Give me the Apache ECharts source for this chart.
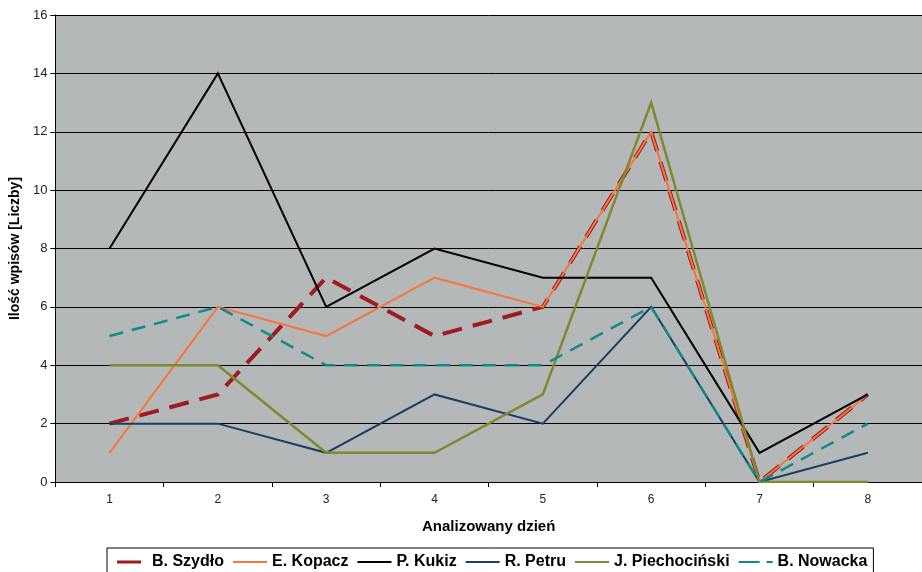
<!DOCTYPE html>
<html>
<head>
<meta charset="utf-8">
<script src="https://cdn.jsdelivr.net/npm/echarts@6/dist/echarts.min.js"></script>
<style>
html,body{margin:0;padding:0;background:#fff;}
#chart{width:922px;height:572px;}
</style>
</head>
<body>
<div id="chart"></div>
<script>
// Days on the x axis
const days = ['1', '2', '3', '4', '5', '6', '7', '8'];

// Number of posts per candidate per day
const szydlo = [2, 3, 7, 5, 6, 12, 0, 3];
const kopacz = [1, 6, 5, 7, 6, 12, 0, 3];
const kukiz = [8, 14, 6, 8, 7, 7, 1, 3];
const petru = [2, 2, 1, 3, 2, 6, 0, 1];
const piechocinski = [4, 4, 1, 1, 3, 13, 0, 0];
const nowacka = [5, 6, 4, 4, 4, 6, 0, 2];

// Legend swatches: 34x4 boxes, corner specks keep the bounding box fixed
const box = 'M0,0h0.01v0.01h-0.01z M34,4h-0.01v-0.01h0.01z ';
const iconSolid = 'path://' + box + 'M0,1h34v2h-34z';
const iconThickDash = 'path://' + box + 'M4,0.5h24v3h-24z';
const iconDash = 'path://' + box + 'M0,1h21v2h-21z M28,1h6v2h-6z';

const seriesDefs = [
  { name: 'B. Szydło', data: szydlo, color: '#9E1B20', width: 4, type: [20, 11], icon: iconThickDash },
  { name: 'E. Kopacz', data: kopacz, color: '#F7773A', width: 2, type: 'solid', icon: iconSolid },
  { name: 'P. Kukiz', data: kukiz, color: '#000000', width: 2, type: 'solid', icon: iconSolid },
  { name: 'R. Petru', data: petru, color: '#1D3C66', width: 2, type: 'solid', icon: iconSolid },
  { name: 'J. Piechociński', data: piechocinski, color: '#7E8A2E', width: 2.5, type: 'solid', icon: iconSolid },
  { name: 'B. Nowacka', data: nowacka, color: '#0E8C88', width: 2.5, type: [14, 9], icon: iconDash }
];

const font = 'Liberation Sans, Arial, sans-serif';
const chart = echarts.init(document.getElementById('chart'));

chart.setOption({
  animation: false,
  backgroundColor: '#ffffff',
  grid: {
    left: 55, right: 0, top: 15, bottom: 90,
    show: true,
    backgroundColor: '#B5B8B9',
    borderWidth: 0
  },
  legend: {
    bottom: -6,
    left: 107,
    itemWidth: 34,
    itemHeight: 4,
    itemGap: 9,
    padding: [6, 6, 8, 6],
    borderColor: '#000',
    borderWidth: 1,
    borderRadius: 0,
    textStyle: { fontFamily: font, fontSize: 16, fontWeight: 'bold', color: '#000' },
    data: seriesDefs.map(s => ({ name: s.name, icon: s.icon }))
  },
  xAxis: {
    type: 'category',
    data: days,
    boundaryGap: true,
    name: 'Analizowany dzień',
    nameLocation: 'middle',
    nameGap: 37,
    nameTextStyle: { fontFamily: font, fontSize: 15, fontWeight: 'bold', color: '#000' },
    axisLine: { lineStyle: { color: '#000', width: 1 } },
    axisTick: { show: true, alignWithLabel: false, length: 5, lineStyle: { color: '#000' } },
    axisLabel: { fontFamily: font, fontSize: 12, color: '#222', margin: 12 },
    splitLine: { show: false }
  },
  yAxis: {
    type: 'value',
    min: 0,
    max: 16,
    interval: 2,
    name: 'Ilość wpisów [Liczby]',
    nameLocation: 'middle',
    nameGap: 30,
    nameRotate: 90,
    nameTextStyle: { fontFamily: font, fontSize: 14, fontWeight: 'bold', color: '#000' },
    axisLine: { show: true, lineStyle: { color: '#000', width: 1 } },
    axisTick: { show: true, length: 5, lineStyle: { color: '#000' } },
    axisLabel: { fontFamily: font, fontSize: 13, color: '#222', margin: 8 },
    splitLine: { show: true, lineStyle: { color: '#000', width: 1 } }
  },
  series: seriesDefs.map(s => ({
    name: s.name,
    type: 'line',
    data: s.data,
    symbol: 'none',
    color: s.color,
    lineStyle: { color: s.color, width: s.width, type: s.type, cap: 'butt', join: 'miter' },
    emphasis: { disabled: true }
  }))
});
</script>
</body>
</html>
